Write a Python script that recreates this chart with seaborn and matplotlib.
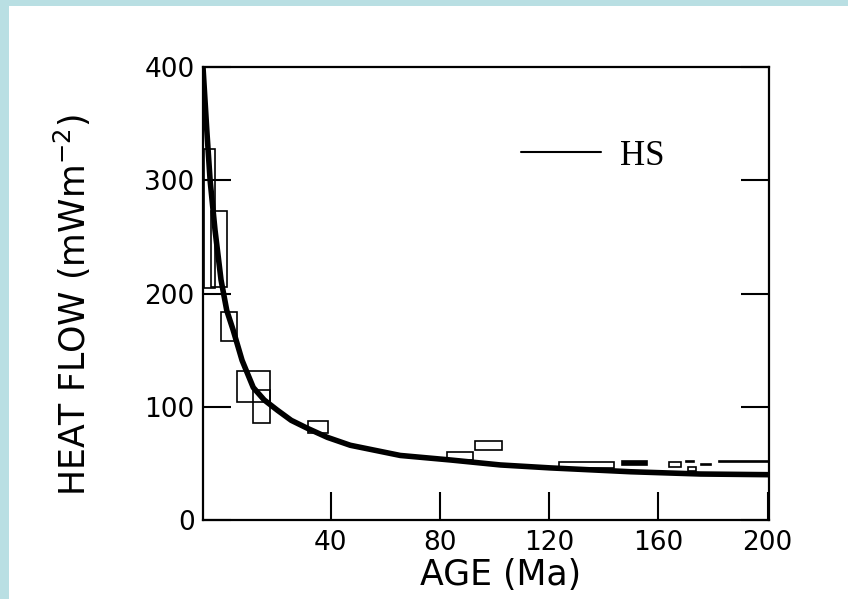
import numpy as np
import pandas as pd
import matplotlib
matplotlib.use("Agg")
import matplotlib.pyplot as plt
from matplotlib.patches import Rectangle
from matplotlib.lines import Line2D
import seaborn as sns

# ---- data ----
# HS (half-space) model curve
curve_age = [-6.7, -5.3, -4.1, -2.3, -0.1, 2.0, 4.3, 7.6, 11.7, 15.7, 20.5,
             25.6, 31.5, 38.8, 47.2, 65.5, 83.9, 102.2, 120.5, 149.9, 175.5, 200.8]
curve_hf = [400, 344, 300, 256, 212, 185, 168, 141, 117, 106, 97,
            88, 81, 73, 66, 57, 53, 48.6, 46, 42.6, 40.6, 40]

# observed heat-flow boxes (age range x heat-flow range)
box_age_lo = [-6.5, -3.7, -0.2, 5.7, 11.5, 31.6, 82.7, 92.7, 123.5, 146.8, 163.8, 170.0, 170.8, 175.5, 182.1]
box_age_hi = [-2.3, 2.0, 5.7, 17.9, 17.9, 38.9, 92.2, 102.8, 143.6, 155.7, 168.2, 173.0, 173.7, 179.2, 200.5]
box_hf_lo = [205, 206, 158, 104.5, 86, 77, 53, 62, 46, 49, 47, 51.5, 43, 48.5, 51.5]
box_hf_hi = [328, 273, 184, 131.8, 115, 87, 60, 70, 51.5, 52.5, 51.5, 52.5, 47, 49.5, 52.3]
box_filled = [False, False, False, False, False, False, False, False, False,
              True, False, True, False, True, False]

x_ticks = [40, 80, 120, 160, 200]
y_ticks = [0, 100, 200, 300, 400]
legend_label = "HS"
x_label = "AGE (Ma)"
y_label = "HEAT FLOW (mWm$^{-2}$)"

# ---- figure ----
sns.set_style("ticks")
plt.rcParams["font.family"] = ["DejaVu Sans"]
plt.rcParams["text.color"] = "black"
plt.rcParams["axes.labelcolor"] = "black"

fig = plt.figure(figsize=(8.48, 5.99), dpi=100)
fig.patch.set_facecolor("#b9dfe3")
fig.patches.append(Rectangle((9 / 848, 0), 1, 1 - 6 / 599, transform=fig.transFigure,
                             facecolor="white", edgecolor="none", zorder=-10))

ax = fig.add_axes([203 / 848, (599 - 520) / 599, (769 - 203) / 848, (520 - 67) / 599])
ax.set_facecolor("white")

boxes = pd.DataFrame({"lo": box_age_lo, "hi": box_age_hi,
                      "qlo": box_hf_lo, "qhi": box_hf_hi, "filled": box_filled})
ax.bar(boxes["lo"], boxes["qhi"] - boxes["qlo"], width=boxes["hi"] - boxes["lo"],
       bottom=boxes["qlo"], align="edge",
       color=["black" if f else "none" for f in boxes["filled"]],
       edgecolor="black", linewidth=1.2, zorder=2)

curve = pd.DataFrame({"age": curve_age, "hf": curve_hf})
sns.lineplot(data=curve, x="age", y="hf", color="black", linewidth=4.0, ax=ax,
             zorder=3, sort=False)

ax.set_xlim(-6.7, 200.5)
ax.set_ylim(0, 400)
ax.set_xticks(x_ticks)
ax.set_yticks(y_ticks)
ax.tick_params(axis="both", direction="in", length=20, width=1.5, labelsize=19,
               colors="black")
ax.tick_params(axis="x", pad=7)
ax.tick_params(axis="y", pad=6, right=True, labelright=False)
for s in ax.spines.values():
    s.set_linewidth(1.6)
    s.set_color("black")

ax.set_xlabel(x_label, fontsize=25, color="black")
ax.set_ylabel(y_label, fontsize=25, color="black")
ax.xaxis.set_label_coords(0.525, -0.084)
ax.yaxis.set_label_coords(-0.195, 0.475)

ax.legend(handles=[Line2D([], [], color="black", linewidth=1.5)], labels=[legend_label],
          loc="center left", bbox_to_anchor=(0.562, 0.8035), frameon=False,
          borderpad=0, borderaxespad=0, handlelength=2.3, handletextpad=0.55,
          prop={"family": "Liberation Serif", "size": 25})

fig.savefig("out.png", dpi=100, facecolor=fig.get_facecolor())
